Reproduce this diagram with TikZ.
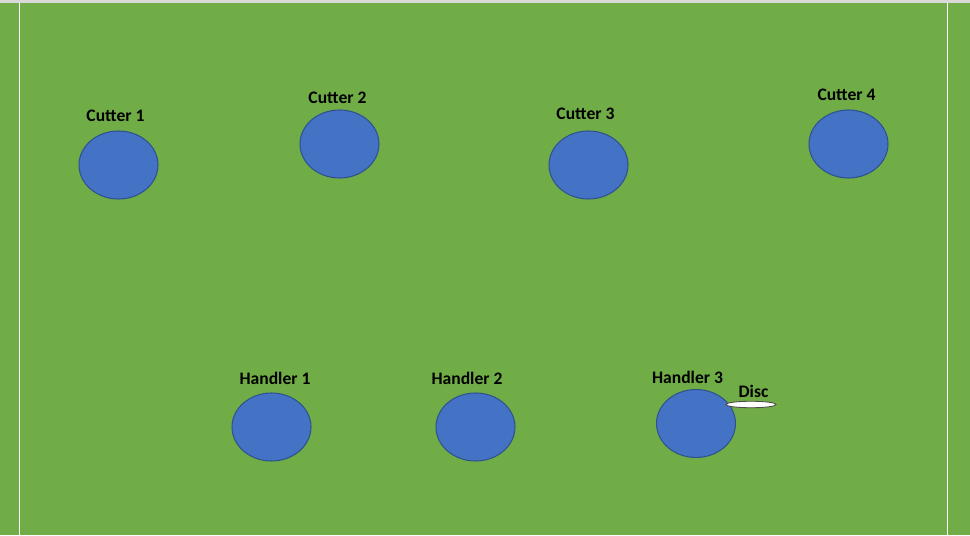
\documentclass[tikz,border=0pt]{standalone}
\usepackage{fontspec}
\setmainfont{Carlito}
\usetikzlibrary{shapes.geometric}
\definecolor{turf}{HTML}{70AD47}
\definecolor{jersey}{HTML}{4472C4}
\definecolor{jerseyedge}{HTML}{2F528F}
\definecolor{frame}{HTML}{D9D9D9}
\tikzstyle{player}=[ellipse, draw=jerseyedge, fill=jersey, line width=0.6pt,
    inner sep=0pt, minimum width=1.58cm, minimum height=1.36cm]
\tikzstyle{tag}=[font=\bfseries, inner sep=0pt, text=black]
\tikzstyle{disc}=[ellipse, draw=black!70, fill=white, line width=0.5pt,
    inner sep=0pt, minimum width=1cm, minimum height=0.13cm]
\begin{document}
\begin{tikzpicture}
  % field
  \path[fill=turf] (0,0) rectangle (19.4,10.7);
  \path[fill=frame] (0,10.64) rectangle (19.4,10.7);
  \draw[white, line width=0.85pt] (0.39,0) -- (0.39,10.64);
  \draw[white, line width=0.85pt] (18.95,0) -- (18.95,10.64);

  % cutters
  \node at (2.37, 7.40) (c1)[player] {};
    \path (c1.north) +(-0.06,0.29) node[tag] (lc1) {Cutter 1};
  \node at (6.79, 7.82) (c2)[player] {};
    \path (c2.north) +(-0.04,0.23) node[tag] (lc2) {Cutter 2};
  \node at (11.77, 7.40) (c3)[player] {};
    \path (c3.north) +(-0.06,0.33) node[tag] (lc3) {Cutter 3};
  \node at (16.97, 7.82) (c4)[player] {};
    \path (c4.north) +(-0.04,0.29) node[tag] (lc4) {Cutter 4};

  % handlers
  \node at (5.43, 2.16) (h1)[player] {};
    \path (h1.north) +(0.07,0.28) node[tag] (lh1) {Handler 1};
  \node at (9.51, 2.16) (h2)[player] {};
    \path (h2.north) +(-0.17,0.28) node[tag] (lh2) {Handler 2};
  \node at (13.92, 2.23) (h3)[player] {};
    \path (h3.north) +(-0.17,0.24) node[tag] (lh3) {Handler 3};

  % disc
  \node at (15.02, 2.61) (d)[disc] {};
    \path (d.north) +(0.05,0.18) node[tag] (ld) {Disc};
\end{tikzpicture}
\end{document}
